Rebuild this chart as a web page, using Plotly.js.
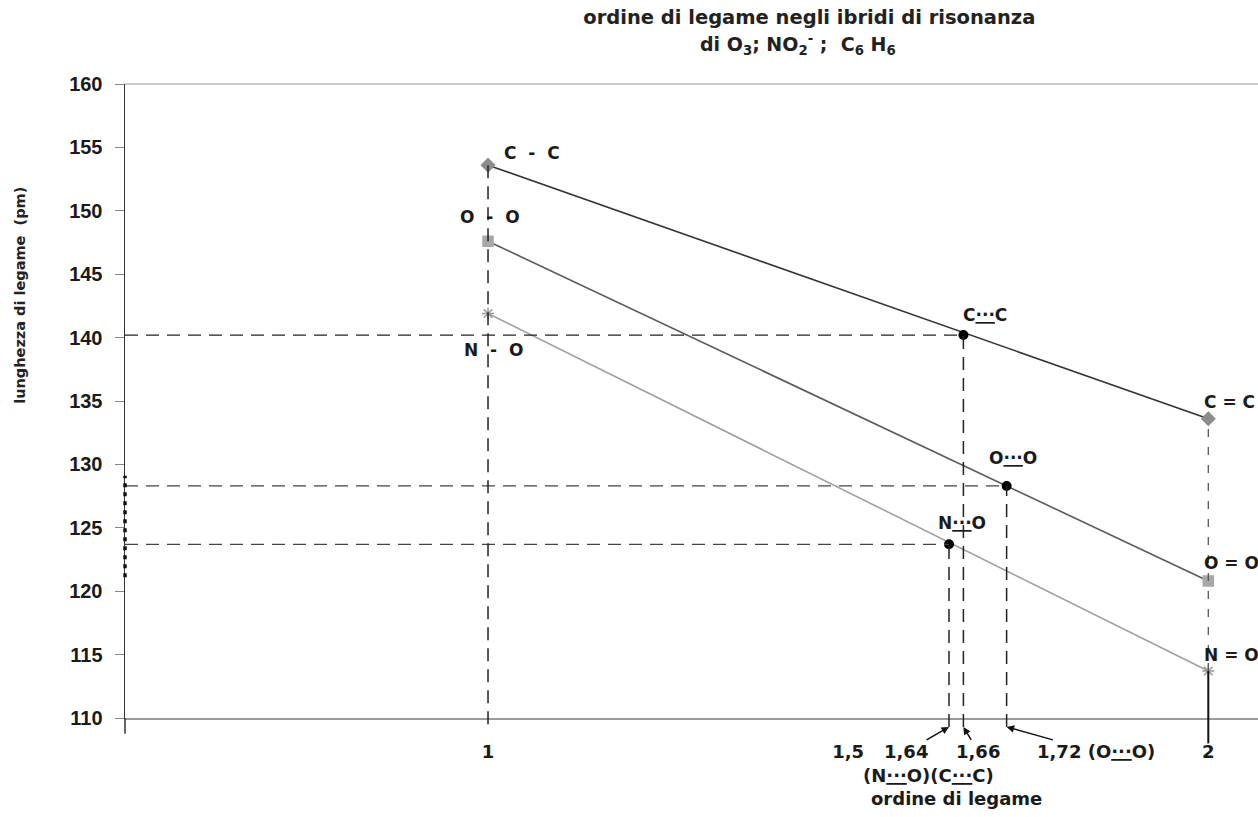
<!DOCTYPE html>
<html>
<head>
<meta charset="utf-8">
<script src="https://cdn.plot.ly/plotly-3.0.1.min.js"></script>
<style>
  html, body { margin: 0; padding: 0; background: #fff; overflow: hidden; }
  #chart { width: 1258px; height: 817px; }
</style>
</head>
<body>
<div id="chart"></div>
<script>
// ---------- data ----------
const bondOrders = [1, 2];                      // single, double bond order
const ccLength = [153.6, 133.6];                // C-C , C=C  (pm)
const ooLength = [147.6, 120.8];                // O-O , O=O
const noLength = [141.9, 113.7];                // N-O , N=O
const sp = '\u00a0\u00a0';
const singleLabels = ['C' + sp + '-' + sp + 'C', 'O' + sp + '-' + sp + 'O', 'N' + sp + '-' + sp + 'O'];
const doubleLabels = ['C\u00a0=\u00a0C', 'O\u00a0=\u00a0O', 'N\u00a0=\u00a0O'];
const resSym = '<u>\u00b7\u00b7\u00b7</u>';
const resonanceLabels = ['C' + resSym + 'C', 'O' + resSym + 'O', 'N' + resSym + 'O'];
const resonanceOrder = [1.66, 1.72, 1.64];      // C⋯C, O⋯O, N⋯O
const resonanceLength = [140.2, 128.3, 123.7];
const xTickVals = [1, 1.5, 2];
const xTickText = ['1', '1,5', '2'];
const yTickVals = [110, 115, 120, 125, 130, 135, 140, 145, 150, 155, 160];
const orderLabels = ['1,66', '1,72 (O' + resSym + 'O)', '1,64'];

// ---------- layout constants ----------
const xRange = [0.496, 2.069];
const yRange = [110, 160];
const FONT = 'DejaVu Sans, Verdana, sans-serif';
const NUMFONT = 'Liberation Sans, Arial, sans-serif';
const py = v => (v - yRange[0]) / (yRange[1] - yRange[0]);

const series = [
  {y: ccLength, line: '#333', mk: '#8c8c8c', sym: 'diamond', size: 10},
  {y: ooLength, line: '#5a5a5a', mk: '#a8a8a8', sym: 'square', size: 10},
  {y: noLength, line: '#a0a0a0', mk: '#9a9a9a', sym: 'asterisk-open', size: 10}
];

const traces = series.map(s => ({
  x: bondOrders, y: s.y, mode: 'lines+markers', type: 'scatter',
  line: {color: s.line, width: 1.6},
  marker: {color: s.mk, symbol: s.sym, size: s.size, line: {color: s.mk, width: 1.5}},
  hoverinfo: 'skip', cliponaxis: false
}));
traces.push({
  x: resonanceOrder, y: resonanceLength, mode: 'markers', type: 'scatter',
  marker: {color: '#000', size: 10}, hoverinfo: 'skip', cliponaxis: false
});

// ---------- reference lines ----------
const shapes = [];
const dashLong = '13px,8px';
resonanceOrder.forEach((xo, i) => {
  shapes.push({type: 'line', xref: 'x', yref: 'y', x0: xRange[0], x1: xo,
    y0: resonanceLength[i], y1: resonanceLength[i],
    line: {color: i === 0 ? '#222' : '#444', width: 1.3, dash: dashLong}});
  shapes.push({type: 'line', xref: 'x', yref: 'paper', x0: xo, x1: xo,
    y0: -0.014, y1: py(resonanceLength[i]),
    line: {color: '#222', width: 1.5, dash: dashLong}});
});
shapes.push({type: 'line', xref: 'x', yref: 'paper', x0: bondOrders[0], x1: bondOrders[0],
  y0: -0.01, y1: py(ccLength[0]), line: {color: '#222', width: 1.5, dash: dashLong}});
shapes.push({type: 'line', xref: 'x', yref: 'paper', x0: bondOrders[1], x1: bondOrders[1],
  y0: py(noLength[1]), y1: py(ccLength[1]), line: {color: '#555', width: 1.3, dash: '8px,10px'}});
shapes.push({type: 'line', xref: 'x', yref: 'paper', x0: bondOrders[1], x1: bondOrders[1],
  y0: -0.04, y1: py(noLength[1]), line: {color: '#111', width: 2}});
shapes.push({type: 'line', xref: 'paper', yref: 'paper', x0: 0, x1: 1, y0: 1, y1: 1,
  line: {color: '#999', width: 1}});
shapes.push({type: 'line', xref: 'paper', yref: 'paper', x0: 0, x1: 0, y0: -0.025, y1: 0,
  line: {color: '#333', width: 1.5}});
shapes.push({type: 'line', xref: 'paper', yref: 'y', x0: 0, x1: 0,
  y0: resonanceLength[2] - 2.6, y1: resonanceLength[1] + 0.8,
  line: {color: '#111', width: 3.5, dash: '4px,5px'}});

// ---------- annotations ----------
const labFont = {family: FONT, size: 17, color: '#1a1a1a'};
const botFont = {family: FONT, size: 18, color: '#1a1a1a'};
const ann = [];
const singleShift = [[14, 12, 'left'], [2, 24, 'center'], [5, -36, 'center']];
series.forEach((s, i) => {
  ann.push({x: bondOrders[0], y: s.y[0], xref: 'x', yref: 'y', text: '<b>' + singleLabels[i] + '</b>',
    showarrow: false, xanchor: singleShift[i][2], yanchor: 'middle',
    xshift: singleShift[i][0], yshift: singleShift[i][1], font: labFont});
});
const doubleShift = [17, 18, 16];
series.forEach((s, i) => {
  ann.push({x: bondOrders[1], y: s.y[1], xref: 'x', yref: 'y', text: '<b>' + doubleLabels[i] + '</b>',
    showarrow: false, xanchor: 'left', yanchor: 'middle',
    xshift: -6, yshift: doubleShift[i], font: labFont});
});
const resShift = [[-2, 20, 'left'], [6, 28, 'center'], [13, 21, 'center']];
resonanceOrder.forEach((xo, i) => {
  ann.push({x: xo, y: resonanceLength[i], xref: 'x', yref: 'y', text: '<b>' + resonanceLabels[i] + '</b>',
    showarrow: false, xanchor: resShift[i][2], yanchor: 'middle',
    xshift: resShift[i][0], yshift: resShift[i][1], font: labFont});
});
const arrowOff = [[15, 25], [89, 25], [-43, 25]];
resonanceOrder.forEach((xo, i) => {
  ann.push({x: xo, y: -0.014, xref: 'x', yref: 'paper', text: '<b>' + orderLabels[i] + '</b>',
    showarrow: true, arrowhead: 2, arrowsize: 1, arrowwidth: 1.5, arrowcolor: '#111',
    ax: arrowOff[i][0], ay: arrowOff[i][1], standoff: 0, startstandoff: 0,
    font: botFont});
});
ann.push({x: 0.709, y: -0.091, xref: 'paper', yref: 'paper', showarrow: false,
  text: '<b>(N' + resSym + 'O)(C' + resSym + 'C)</b>', font: botFont, xanchor: 'center', yanchor: 'middle'});
ann.push({x: 0.734, y: -0.127, xref: 'paper', yref: 'paper', showarrow: false,
  text: '<b>ordine di legame</b>', font: botFont, xanchor: 'center', yanchor: 'middle'});
ann.push({x: -0.093, y: 0.667, xref: 'paper', yref: 'paper', showarrow: false, textangle: -90,
  text: '<b>lunghezza di legame  (pm)</b>', font: {family: FONT, size: 14.5, color: '#222'},
  xanchor: 'center', yanchor: 'middle'});
ann.push({x: 0.594, y: 1.062, xref: 'paper', yref: 'paper', showarrow: false,
  text: '<b>di O<sub>3</sub>; NO<sub>2</sub><sup>-</sup> ;  C<sub>6</sub> H<sub>6</sub></b>',
  font: {family: FONT, size: 19, color: '#222'}, xanchor: 'center', yanchor: 'middle'});

const layout = {
  width: 1258, height: 817,
  margin: {l: 125, r: 0, t: 84, b: 99},
  paper_bgcolor: '#fff', plot_bgcolor: '#fff',
  showlegend: false,
  title: {text: '<b>ordine di legame negli ibridi di risonanza</b>',
    x: 0.604, xref: 'paper', xanchor: 'center', y: 0.979, yanchor: 'middle',
    font: {family: FONT, size: 19.5, color: '#222'}},
  xaxis: {range: xRange, tickvals: xTickVals, ticktext: xTickText, ticks: '',
    showgrid: false, zeroline: false, showline: true, linecolor: '#9a9a9a', linewidth: 2,
    tickfont: {family: FONT, size: 18, color: '#1a1a1a', weight: 'bold'}, ticklabelstandoff: 16},
  yaxis: {range: yRange, tickvals: yTickVals, ticks: 'outside', ticklen: 9, tickcolor: '#888',
    showgrid: false, zeroline: false, showline: true, linecolor: '#333', linewidth: 1.5,
    tickfont: {family: NUMFONT, size: 20, color: '#1a1a1a', weight: 'bold'}, ticklabelstandoff: 8},
  shapes: shapes,
  annotations: ann
};

Plotly.newPlot('chart', traces, layout, {staticPlot: true, displayModeBar: false});
</script>
</body>
</html>
